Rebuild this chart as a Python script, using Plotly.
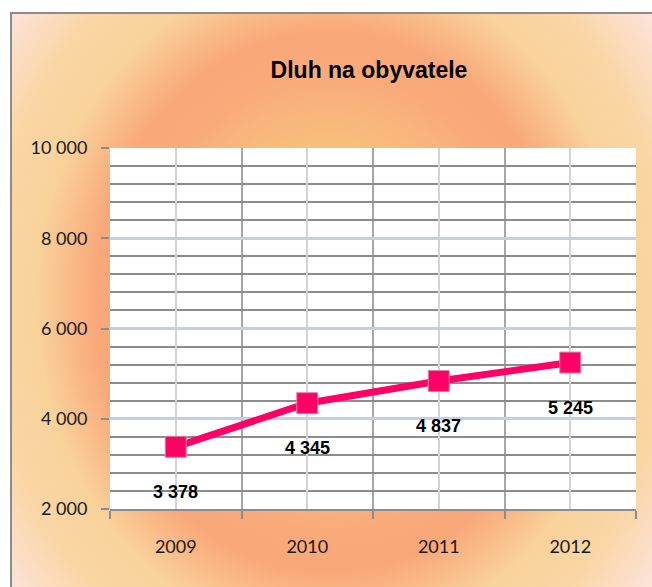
import base64
import plotly.graph_objects as go

years = ["2009", "2010", "2011", "2012"]
debt = [3378, 4345, 4837, 5245]
positions = [1, 2, 3, 4]

W, H = 652, 587
L, R, T, B = 110, 16, 148, 78
pw, ph = W - L - R, H - T - B
OX, OY = 10, 12  # frame origin in figure pixels

cx, cy = 320, 290
svg = f'''<svg xmlns="http://www.w3.org/2000/svg" width="660" height="600" viewBox="0 0 660 600">
<defs><radialGradient id="g" cx="{cx}" cy="{cy}" r="420" gradientUnits="userSpaceOnUse"
 gradientTransform="translate({cx} {cy}) scale(1 1.15) translate({-cx} {-cy})">
<stop offset="0" stop-color="#F8C87C"/>
<stop offset="0.3" stop-color="#F8C27C"/>
<stop offset="0.48" stop-color="#F9A97A"/>
<stop offset="0.56" stop-color="#F9A87A"/>
<stop offset="0.70" stop-color="#F9D29A"/>
<stop offset="0.82" stop-color="#FAD6A6"/>
<stop offset="1" stop-color="#FDE6E8"/>
</radialGradient></defs>
<rect x="1" y="1" width="700" height="700" fill="url(#g)" stroke="#8C8C8C" stroke-width="2"/>
<rect x="{L-OX}" y="{T-OY}" width="{pw}" height="{ph}" fill="#FFFFFF"/>
</svg>'''
src = "data:image/svg+xml;base64," + base64.b64encode(svg.encode()).decode()

fig = go.Figure()
fig.add_trace(go.Scatter(
    x=positions, y=debt, mode="lines+markers",
    line=dict(color="#FF0066", width=7),
    marker=dict(symbol="square", size=21, color="#FF0066",
                line=dict(color="#E0849E", width=1)),
    hoverinfo="skip", showlegend=False,
))

for xv, yv in zip(positions, debt):
    fig.add_annotation(x=xv, y=yv, text="<b>" + f"{yv:,d}".replace(",", " ") + "</b>",
                       showarrow=False, yshift=-45,
                       font=dict(family="Liberation Sans Narrow, Arial Narrow, Liberation Sans",
                                 size=18, color="#000000"))

fig.add_layout_image(dict(
    source=src, xref="paper", yref="paper",
    x=(OX - L) / pw, y=1 + (T - OY) / ph,
    sizex=660 / pw, sizey=600 / ph,
    xanchor="left", yanchor="top", sizing="stretch", layer="below",
))

fig.update_layout(
    width=W, height=H,
    margin=dict(l=L, r=R, t=T, b=B),
    paper_bgcolor="white", plot_bgcolor="rgba(0,0,0,0)",
    separators=", ",
    title=dict(text="<b>Dluh na obyvatele</b>", x=(369) / W, xanchor="center",
               y=1 - 70 / H, yanchor="middle",
               font=dict(family="Liberation Sans Narrow, Arial Narrow, Liberation Sans",
                         size=23, color="#000000")),
    xaxis=dict(
        range=[0.5, 4.5], tickvals=positions, ticktext=years,
        showgrid=True, gridcolor="#D4D4D4", gridwidth=1.5,
        ticks="", showline=True, linecolor="#8C8C8C", linewidth=2,
        tickfont=dict(family="Lato, Open Sans", size=18, color="#1a1a1a"),
        ticklabelstandoff=20, zeroline=False,
        minor=dict(tickvals=[0.5, 1.5, 2.5, 3.5, 4.5], showgrid=True,
                   gridcolor="#A6A6A6", gridwidth=1.5,
                   ticks="outside", ticklen=8, tickcolor="#8C8C8C", tickwidth=1.5),
    ),
    yaxis=dict(
        range=[2000, 10000], dtick=2000, tickformat=",d",
        showgrid=True, gridcolor="#BFD0E8", gridwidth=2.5,
        ticks="outside", ticklen=8, tickcolor="#8C8C8C", tickwidth=2,
        showline=False, zeroline=False,
        tickfont=dict(family="Lato, Open Sans", size=18, color="#1a1a1a"),
        ticklabelstandoff=10,
        minor=dict(dtick=400, showgrid=True, gridcolor="#8C8C8C", gridwidth=1.5),
    ),
)

fig.write_html("out.html", config={"displayModeBar": False},
               post_script="document.body.style.margin='0';document.body.style.overflow='hidden';")
